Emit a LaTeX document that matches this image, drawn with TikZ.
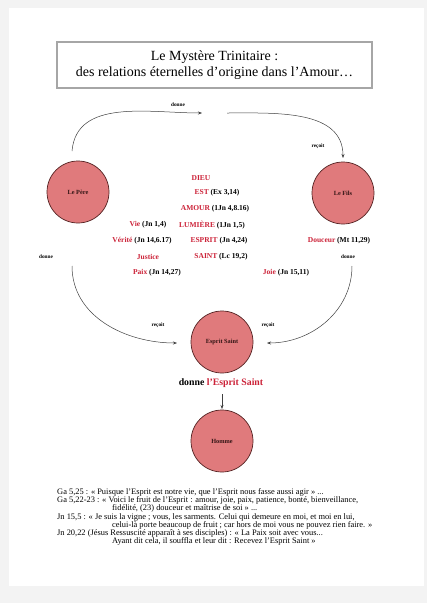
\documentclass[tikz,border=0pt]{standalone}
\usepackage{fontspec}
\setmainfont{Liberation Serif}
\usetikzlibrary{arrows.meta}
\definecolor{rose}{RGB}{224,122,124}
\definecolor{rouge}{RGB}{204,34,56}
\definecolor{brun}{RGB}{85,35,35}
\definecolor{fond}{RGB}{243,243,243}
\newcommand{\rg}[1]{\textcolor{rouge}{#1}}
\tikzset{
  personne/.style={circle, draw=brun, line width=0.7pt, fill=rose, minimum size=62pt,
    inner sep=0pt, text=brun!60!black, font=\bfseries\fontsize{6.3}{7}\selectfont},
  petit/.style={font=\bfseries\fontsize{5.3}{6}\selectfont},
  mot/.style={font=\bfseries\fontsize{7.5}{9}\selectfont, inner sep=1pt},
  fleche/.style={-{Stealth[length=4pt,width=3pt]}, line width=0.5pt, black!75}
}
\begin{document}
\begin{tikzpicture}[x=1pt,y=-1pt]
\useasboundingbox (0,0) rectangle (427,603);
\fill[fond] (0,0) rectangle (427,603);
\fill[white] (9,8) rectangle (424,586);

% titre
\node[draw=gray!70, line width=1.3pt, minimum width=315pt, minimum height=46pt,
  align=center, font=\fontsize{14}{16}\selectfont] (titre) at (214.5,65)
  {Le Mystère Trinitaire :\\des relations éternelles d'origine dans l'Amour…};

% les personnes
\node[personne] (pere) at (78,192) {Le Père};
\node[personne] (fils) at (343,193) {Le Fils};
\node[personne] (esprit) at (222,342) {Esprit Saint};
\node[personne] (homme) at (222,441) {Homme};

% colonne centrale
\node[mot] (dieu) at (201,178) {\rg{DIEU}};
\node[mot] (est) at (217,193) {\rg{EST} (Ex 3,14)};
\node[mot] (amour) at (215,209) {\rg{AMOUR} (1Jn 4,8.16)};
\node[mot] (lumiere) at (212,225) {\rg{LUMIÈRE} (1Jn 1,5)};
\node[mot] (espritmot) at (219,241) {\rg{ESPRIT} (Jn 4,24)};
\node[mot] (saint) at (221,257) {\rg{SAINT} (Lc 19,2)};

\node[mot] (vie) at (148,225) {\rg{Vie} (Jn 1,4)};
\node[mot] (verite) at (142,241) {\rg{Vérité} (Jn 14,6.17)};
\node[mot] (justice) at (148,257) {\rg{Justice}};
\node[mot] (paix) at (157,273) {\rg{Paix} (Jn 14,27)};
\node[mot] (douceur) at (339,241) {\rg{Douceur} (Mt 11,29)};
\node[mot] (joie) at (286,273) {\rg{Joie} (Jn 15,11)};

% relations
\coordinate (p1) at (72,151);
\coordinate (m1) at (202,113);
\coordinate (m2) at (227,113);
\coordinate (f1) at (343,158);
\draw[fleche] (p1) to[out=85,in=180] (m1);
\draw[line width=0.5pt, black!75, -{Stealth[length=4pt,width=3pt]}] (m2) to[out=0,in=90] (f1);
\node[petit] (donne1) at (178,105) {donne};
\node[petit] (recoit1) at (318,146) {reçoit};

\coordinate (p2) at (72,266);
\coordinate (e1) at (177,343);
\coordinate (f2) at (352,266);
\coordinate (e2) at (267,343);
\draw[fleche] (p2) to[out=-90,in=180] (e1);
\draw[fleche] (f2) to[out=-90,in=0] (e2);
\node[petit] (donne2) at (46,257) {donne};
\node[petit] (donne3) at (348,257) {donne};
\node[petit] (recoit2) at (158,325) {reçoit};
\node[petit] (recoit3) at (268,325) {reçoit};

\node[font=\bfseries\fontsize{9.8}{11}\selectfont] (dones) at (221,383) {donne \rg{l'Esprit Saint}};
\coordinate (h1) at (222,394);
\coordinate (h2) at (222,409);
\draw[fleche] (h1) -- (h2);

% notes
\node[anchor=north west, align=left, inner sep=0pt, font=\fontsize{8.4}{8.3}\selectfont] (notes) at (57,488)
{Ga 5,25 : « Puisque l'Esprit est notre vie, que l'Esprit nous fasse aussi agir » ...\\
Ga 5,22-23 : « Voici le fruit de l'Esprit : amour, joie, paix, patience, bonté, bienveillance,\\
\hspace*{55pt}fidélité, (23) douceur et maîtrise de soi » ...\\
Jn 15,5 : « Je suis la vigne ; vous, les sarments. Celui qui demeure en moi, et moi en lui,\\
\hspace*{55pt}celui-là porte beaucoup de fruit ; car hors de moi vous ne pouvez rien faire. »\\
Jn 20,22 (Jésus Ressuscité apparaît à ses disciples) : « La Paix soit avec vous...\\
\hspace*{55pt}Ayant dit cela, il souffla et leur dit : Recevez l'Esprit Saint »};
\end{tikzpicture}
\end{document}
